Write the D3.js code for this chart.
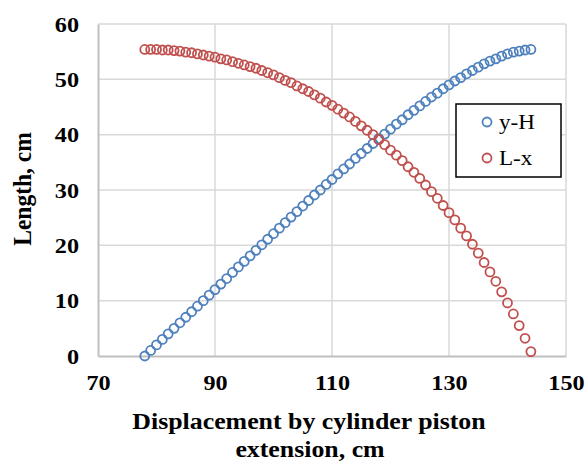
<!DOCTYPE html>
<html>
<head>
<meta charset="utf-8">
<script src="https://cdn.jsdelivr.net/npm/d3@7"></script>
<style>
  body { margin: 0; background: #fff; }
  svg text { font-family: "Liberation Serif", "Times New Roman", serif; }
</style>
</head>
<body>
<svg id="chart" width="585" height="463"></svg>
<script>
// displacement, cm
var displacement = [78, 79, 80, 81, 82, 83, 84, 85, 86, 87, 88, 89, 90, 91, 92, 93, 94, 95, 96, 97,
    98, 99, 100, 101, 102, 103, 104, 105, 106, 107, 108, 109, 110, 111, 112, 113, 114, 115, 116, 117,
    118, 119, 120, 121, 122, 123, 124, 125, 126, 127, 128, 129, 130, 131, 132, 133, 134, 135, 136, 137,
    138, 139, 140, 141, 142, 143, 144];

var yMinusH = [0.0, 1.0, 2.0, 3.0, 4.0, 5.0, 6.0, 7.0, 8.0, 9.0, 10.0, 11.0, 12.0, 13.0, 14.0, 15.1, 16.1, 17.1, 18.1, 19.1,
    20.1, 21.1, 22.1, 23.1, 24.1, 25.1, 26.1, 27.1, 28.1, 29.1, 30.0, 31.0, 31.9, 32.9, 33.8, 34.7, 35.7, 36.6, 37.5, 38.4,
    39.3, 40.1, 41.0, 41.9, 42.7, 43.6, 44.4, 45.2, 46.0, 46.8, 47.5, 48.3, 49.0, 49.7, 50.3, 51.0, 51.6, 52.2, 52.8, 53.3,
    53.7, 54.2, 54.6, 54.9, 55.1, 55.3, 55.4];

var lMinusX = [55.4, 55.4, 55.4, 55.3, 55.3, 55.2, 55.1, 54.9, 54.8, 54.6, 54.4, 54.2, 54.0, 53.7, 53.5, 53.2, 52.9, 52.6, 52.3, 52.0,
    51.6, 51.2, 50.8, 50.3, 49.8, 49.4, 48.8, 48.3, 47.8, 47.2, 46.6, 45.9, 45.3, 44.6, 43.9, 43.2, 42.4, 41.6, 40.8, 40.0,
    39.1, 38.2, 37.2, 36.3, 35.3, 34.2, 33.2, 32.1, 30.9, 29.7, 28.5, 27.2, 25.9, 24.6, 23.1, 21.7, 20.2, 18.6, 16.9, 15.2,
    13.5, 11.6, 9.6, 7.6, 5.5, 3.2, 0.8];

var xTicks = [70, 90, 110, 130, 150];
var yTicks = [0, 10, 20, 30, 40, 50, 60];

var seriesNames = ["y-H", "L-x"];
var seriesColors = ["#4f81bd", "#c0504d"];

// text in the reference is a little wider than it is tall
var stretch = 1.1;

var svg = d3.select("#chart");

var x = d3.scaleLinear().domain([70, 150]).range([98, 566]);
var y = d3.scaleLinear().domain([0, 60]).range([356, 24]);

// gridlines
var grid = svg.append("g").attr("class", "grid");

grid.selectAll("line.h")
    .data(yTicks.slice(1))
    .enter().append("line")
    .attr("class", "h")
    .attr("x1", x(70)).attr("x2", x(150))
    .attr("y1", function(d) { return y(d); })
    .attr("y2", function(d) { return y(d); })
    .attr("stroke", "#d9d9d9")
    .attr("stroke-width", 1.5);

grid.selectAll("line.v")
    .data(xTicks.slice(1))
    .enter().append("line")
    .attr("class", "v")
    .attr("y1", y(0)).attr("y2", y(60))
    .attr("x1", function(d) { return x(d); })
    .attr("x2", function(d) { return x(d); })
    .attr("stroke", "#d9d9d9")
    .attr("stroke-width", 1.5);

// axes
var xAxis = svg.append("g")
    .attr("transform", "translate(0," + y(0) + ")")
    .call(d3.axisBottom(x).tickValues(xTicks).tickSize(0).tickPadding(18));

var yAxis = svg.append("g")
    .attr("transform", "translate(" + x(70) + ",0)")
    .call(d3.axisLeft(y).tickValues(yTicks).tickSize(0).tickPadding(19));

[xAxis, yAxis].forEach(function(ax) {
    ax.select(".domain").attr("stroke", "#bfbfbf").attr("stroke-width", 2);
    ax.selectAll("text")
        .attr("font-family", "Liberation Serif, serif")
        .attr("font-size", 22)
        .attr("font-weight", "bold")
        .attr("fill", "#000");
});
xAxis.selectAll("text").attr("transform", "scale(" + stretch + ",1)");
yAxis.selectAll("text")
    .attr("x", -19 / stretch)
    .attr("transform", "scale(" + stretch + ",1)");

// points
var series = [yMinusH, lMinusX];
series.forEach(function(vals, k) {
    svg.append("g")
        .selectAll("circle")
        .data(vals)
        .enter().append("circle")
        .attr("cx", function(d, i) { return x(displacement[i]); })
        .attr("cy", function(d) { return y(d); })
        .attr("r", 4.5)
        .attr("fill", "none")
        .attr("stroke", seriesColors[k])
        .attr("stroke-width", 1.8);
});

// axis titles
svg.append("text")
    .attr("transform", "translate(31,189) rotate(-90) scale(1," + stretch + ")")
    .attr("text-anchor", "middle")
    .attr("font-size", 23.5)
    .attr("font-weight", "bold")
    .text("Length, cm");

svg.append("text")
    .attr("transform", "translate(309,429) scale(" + stretch + ",1)")
    .attr("text-anchor", "middle")
    .attr("font-size", 23.5)
    .attr("font-weight", "bold")
    .text("Displacement by cylinder piston");

svg.append("text")
    .attr("transform", "translate(310,457) scale(" + stretch + ",1)")
    .attr("text-anchor", "middle")
    .attr("font-size", 23.5)
    .attr("font-weight", "bold")
    .text("extension, cm");

// legend
var legend = svg.append("g");
legend.append("rect")
    .attr("x", 456).attr("y", 104)
    .attr("width", 105).attr("height", 73)
    .attr("fill", "#fff")
    .attr("stroke", "#000")
    .attr("stroke-width", 1.5);

legend.selectAll("g.item")
    .data(seriesNames)
    .enter().append("g")
    .attr("class", "item")
    .attr("transform", function(d, i) { return "translate(487," + (122 + i * 36) + ")"; })
    .each(function(d, i) {
        var g = d3.select(this);
        g.append("circle")
            .attr("r", 4.5)
            .attr("fill", "none")
            .attr("stroke", seriesColors[i])
            .attr("stroke-width", 1.8);
        g.append("text")
            .attr("transform", "translate(12,7) scale(" + stretch + ",1)")
            .attr("font-size", 21)
            .text(d);
    });
</script>
</body>
</html>
